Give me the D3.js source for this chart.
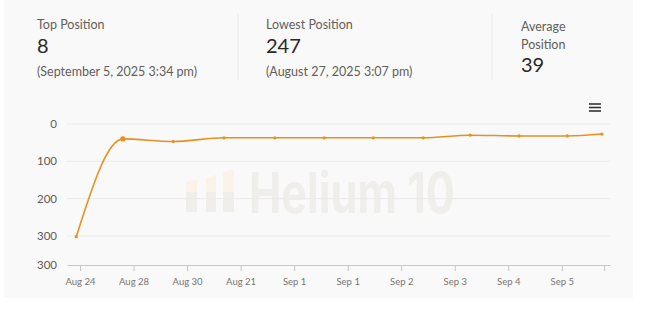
<!DOCTYPE html>
<html>
<head>
<meta charset="utf-8">
<script src="https://cdn.jsdelivr.net/npm/d3@7"></script>
<style>
  html, body { margin: 0; padding: 0; background: #ffffff; }
  svg { display: block; font-family: "Lato", "Liberation Sans", sans-serif; }
</style>
</head>
<body>
<svg id="chart" width="650" height="332"></svg>
<script>
// Keyword rank history (lower rank = better position)
const xTickLabels = ["Aug 24", "Aug 28", "Aug 30", "Aug 21", "Sep 1", "Sep 1", "Sep 2", "Sep 3", "Sep 4", "Sep 5", ""];
const xTickValues = [0, 1, 2, 3, 4, 5, 6, 7, 8, 9, 9.79];
const sampleDay = [-0.07, 0.8, 1.74, 2.69, 3.64, 4.56, 5.48, 6.41, 7.29, 8.2, 9.1, 9.75];
const rankValues = [302, 40, 47, 37, 37, 37, 37, 37, 30, 32, 32, 27];
const yTickValues = [0, 100, 200, 300, 378];
const yTickLabels = ["0", "100", "200", "300", "300"];

// Summary figures
const statTitles = [["Top Position"], ["Lowest Position"], ["Average", "Position"]];
const statValues = ["8", "247", "39"];
const statNotes = ["(September 5, 2025 3:34 pm)", "(August 27, 2025 3:07 pm)", ""];

const svg = d3.select("#chart");

// card background
svg.append("rect").attr("x", 4).attr("y", 0).attr("width", 629).attr("height", 298)
  .attr("fill", "#f9f9f9");

// ---- summary header ----
const statX = [37, 266, 521];
const header = svg.append("g");
statTitles.forEach((lines, i) => {
  lines.forEach((t, j) => {
    header.append("text").attr("x", statX[i]).attr("y", (i === 2 ? 31 : 29) + j * 18)
      .attr("font-size", 12.5).attr("fill", "#635d59").text(t);
  });
  header.append("text").attr("x", statX[i]).attr("y", i === 2 ? 72 : 53)
    .attr("font-size", 20).attr("fill", "#2a2725").text(statValues[i]);
  if (statNotes[i]) {
    header.append("text").attr("x", statX[i]).attr("y", 76)
      .attr("font-size", 12.5).attr("fill", "#635d59").text(statNotes[i]);
  }
});
[238, 492].forEach(x => {
  header.append("line").attr("x1", x).attr("x2", x).attr("y1", 14).attr("y2", 80)
    .attr("stroke", "#ebebeb").attr("stroke-width", 1);
});

// menu icon
const menu = svg.append("g").attr("transform", "translate(589,104)");
[0, 3.5, 7].forEach(dy => {
  menu.append("line").attr("x1", 0).attr("x2", 12).attr("y1", dy).attr("y2", dy)
    .attr("stroke", "#333").attr("stroke-width", 1.6);
});

// ---- scales ----
const plotLeft = 67, plotRight = 610, plotTop = 124, plotBottom = 265;
const x = d3.scaleLinear().domain([-0.243, 9.9]).range([plotLeft, plotRight]);
const y = d3.scaleLinear().domain([0, 378]).range([plotTop, plotBottom]);

// ---- watermark ----
const wm = svg.append("g");
const barDefs = [[186, 197, 182, 179], [206, 216, 178, 175], [223, 234, 172, 169]];
barDefs.forEach(([x0, x1, yl, yr]) => {
  wm.append("path").attr("d", `M${x0},${yl}L${x1},${yr}L${x1},192L${x0},192Z`).attr("fill", "#fbf3e7");
  wm.append("rect").attr("x", x0).attr("y", 192).attr("width", x1 - x0).attr("height", 20).attr("fill", "#efeeea");
});
wm.append("text").attr("x", 249).attr("y", 213).attr("font-family", "Inter, sans-serif")
  .attr("font-weight", 700).attr("font-size", 56).attr("fill", "#efeeea")
  .attr("textLength", 206).attr("lengthAdjust", "spacingAndGlyphs").text("Helium 10");

// ---- grid + y axis ----
const grid = svg.append("g");
yTickValues.slice(0, 4).forEach(v => {
  grid.append("line").attr("x1", plotLeft).attr("x2", plotRight)
    .attr("y1", y(v)).attr("y2", y(v)).attr("stroke", "#ebebeb").attr("stroke-width", 1);
});
const yAxis = d3.axisLeft(y).tickValues(yTickValues)
  .tickFormat((d, i) => yTickLabels[i]).tickSize(0).tickPadding(10);
const yg = svg.append("g").attr("transform", `translate(${plotLeft},0)`).call(yAxis);
yg.select(".domain").remove();
yg.selectAll("text").attr("font-size", 11.5).attr("fill", "#5f5a57")
  .attr("font-family", "Lato, sans-serif");

// ---- x axis ----
const xAxis = d3.axisBottom(x).tickValues(xTickValues)
  .tickFormat((d, i) => xTickLabels[i]).tickSizeInner(6).tickSizeOuter(0).tickPadding(7);
const xg = svg.append("g").attr("transform", `translate(0,${plotBottom})`).call(xAxis);
xg.select(".domain").attr("stroke", "#c9c4c0");
xg.selectAll(".tick line").attr("stroke", "#c9c4c0");
xg.selectAll("text").attr("font-size", 9.5).attr("fill", "#7a7470")
  .attr("font-family", "Lato, sans-serif");

// ---- rank line ----
const pts = sampleDay.map((d, i) => [d, rankValues[i]]);
const line = d3.line().x(d => x(d[0])).y(d => y(d[1])).curve(d3.curveMonotoneX);
svg.append("path").datum(pts).attr("d", line)
  .attr("fill", "none").attr("stroke", "#e8901f").attr("stroke-width", 1.6);
svg.append("g").selectAll("circle").data(pts).join("circle")
  .attr("cx", d => x(d[0])).attr("cy", d => y(d[1]))
  .attr("r", (d, i) => i === 1 ? 2.6 : 1.6)
  .attr("fill", "#e8901f");
</script>
</body>
</html>
